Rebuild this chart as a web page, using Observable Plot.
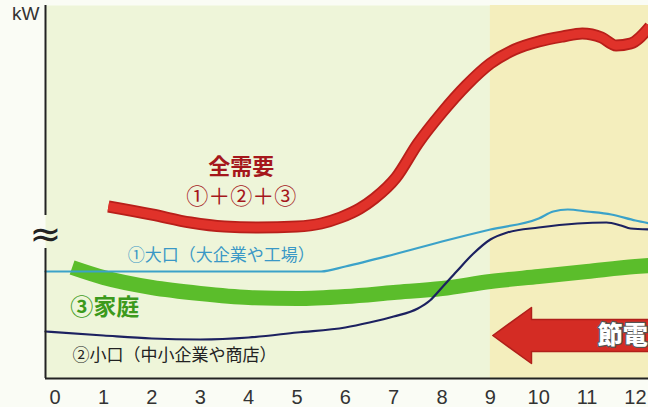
<!DOCTYPE html>
<html><head><meta charset="utf-8">
<script src="https://cdn.jsdelivr.net/npm/d3@7"></script>
<script src="https://cdn.jsdelivr.net/npm/@observablehq/plot@0.6"></script>
<style>
body{margin:0;background:#fafcf5;}
#chart svg{display:block;}
</style></head><body><div id="chart"></div>
<script>
// hour ticks
const hours = d3.range(0, 13);
// ① + ② + ③ total demand
const totalHours  = [1.1, 2, 2.8, 3.5, 4.2, 5, 5.5, 5.9, 6.3, 6.6, 7.05, 7.5, 8, 8.5, 9, 9.5, 10, 10.5, 10.9, 11.3, 11.6, 11.9, 12.3];
const totalValues = [172, 164, 156, 152, 151, 152, 155, 161, 170, 180, 201, 235, 266, 293, 315, 329, 337, 342, 345, 341, 333, 335, 352];
// ① large users (factories)
const largeHours  = [-0.2, 1, 2, 3, 4, 5, 5.5, 6, 7, 8, 9, 10, 10.3, 10.6, 11, 11.5, 12, 12.3];
const largeValues = [107, 107, 107, 107, 107, 107, 107, 112, 124, 137, 149, 160, 167, 169, 167, 164, 158, 155];
// ② small users (shops)
const smallHours  = [-0.2, 1, 2, 3, 4, 5, 6, 6.5, 7, 7.5, 7.75, 8, 8.3, 8.65, 9, 9.35, 10, 10.8, 11.4, 11.7, 11.9, 12.3];
const smallValues = [47, 43, 40, 39, 41, 46, 51, 56, 62, 70, 78, 91, 107, 125, 139, 146, 151, 155, 156, 153, 150, 149];
// ③ households
const homeHours  = [0.35, 1, 2, 3, 4, 5, 6, 7, 8, 9, 10, 11, 12, 12.3];
const homeValues = [111, 101, 91, 85, 81, 80, 82, 86, 90, 97, 102, 107, 112, 113];

const xDomain = [-0.2, 12.27];
const yDomain = [0, 373];
const yBreak = [130, 163];
const peakStart = 9;

const rows = (hs, vs) => hs.map((h, i) => ({h, v: vs[i]}));
const total = rows(totalHours, totalValues);
const large = rows(largeHours, largeValues);
const small = rows(smallHours, smallValues);
const home = rows(homeHours, homeValues);

// arrow "節電" pointing from the right to the 9 o'clock boundary
const arrow = {from: 12.6, to: 9.05, center: 43, head: 0.8, headHalf: 28, shaftHalf: 16};
const arrowPoly = [
  [arrow.to, arrow.center],
  [arrow.to + arrow.head, arrow.center + arrow.headHalf],
  [arrow.to + arrow.head, arrow.center + arrow.shaftHalf],
  [arrow.from, arrow.center + arrow.shaftHalf],
  [arrow.from, arrow.center - arrow.shaftHalf],
  [arrow.to + arrow.head, arrow.center - arrow.shaftHalf],
  [arrow.to + arrow.head, arrow.center - arrow.headHalf]
].map(([h, v]) => ({h, v}));

const cjk = "Noto Sans CJK JP";
const curve = "monotone-x";

const chart = Plot.plot({
  width: 648, height: 407,
  marginLeft: 45, marginRight: 0, marginTop: 5, marginBottom: 29,
  x: {domain: xDomain, ticks: hours, tickSize: 0, tickPadding: 11, tickFormat: d => String(d), label: null},
  y: {domain: yDomain, axis: null},
  style: {background: "transparent", fontFamily: "Liberation Sans", fontSize: "20px", color: "#333"},
  marks: [
    Plot.frame({fill: "#eef5d9", stroke: null}),
    Plot.rect([peakStart], {x1: d => d, x2: xDomain[1] + 0.2, y1: yDomain[0], y2: yDomain[1], fill: "#f4eebd"}),
    // shadows
    Plot.line(home, {x: "h", y: "v", curve, stroke: "#6a6a50", strokeOpacity: 0.35, strokeWidth: 14, dy: 5, ariaLabel: "shadow"}),
    Plot.line(total, {x: "h", y: "v", curve, stroke: "#6a6a50", strokeOpacity: 0.4, strokeWidth: 11, dy: 5, ariaLabel: "shadow"}),
    Plot.line(arrowPoly, {x: "h", y: "v", curve: "linear-closed", fill: "#6a6a50", fillOpacity: 0.3, dy: 4, dx: 2, ariaLabel: "shadow"}),
    // ③ households
    Plot.line(home, {x: "h", y: "v", curve, stroke: "#5bbd2b", strokeWidth: 15, strokeLinecap: "butt"}),
    // ② small
    Plot.line(small, {x: "h", y: "v", curve, stroke: "#1c2160", strokeWidth: 2.2}),
    // ① large
    Plot.line(large, {x: "h", y: "v", curve, stroke: "#3ba2c9", strokeWidth: 2.2}),
    // total
    Plot.line(total, {x: "h", y: "v", curve, stroke: "#b81f1a", strokeWidth: 12, strokeLinecap: "butt"}),
    Plot.line(total, {x: "h", y: "v", curve, stroke: "#e0322a", strokeWidth: 8.5, strokeLinecap: "butt"}),
    // arrow
    Plot.line(arrowPoly, {x: "h", y: "v", curve: "linear-closed", fill: "#d42c24", stroke: "#b01f1a", strokeWidth: 1.5}),
    Plot.text(["節電"], {x: 11.22, y: arrow.center, text: d => d, textAnchor: "start", fontFamily: cjk, fontWeight: 900, fontSize: 25, fill: "white", stroke: "#555", strokeWidth: 2.5, paintOrder: "stroke"}),
    // labels
    Plot.text(["全需要"], {x: 3.85, y: 212, text: d => d, fontFamily: cjk, fontWeight: 700, fontSize: 22, fill: "#a5171c"}),
    Plot.text(["①＋②＋③"], {x: 3.85, y: 182, text: d => d, fontFamily: cjk, fontWeight: 400, fontSize: 22, fill: "#a5171c"}),
    Plot.text(["①大口（大企業や工場）"], {x: 1.5, y: 123, text: d => d, textAnchor: "start", fontFamily: cjk, fontSize: 17, fill: "#3a98c6"}),
    Plot.text(["③家庭"], {x: 0.31, y: 71, text: d => d, textAnchor: "start", fontFamily: cjk, fontWeight: 700, fontSize: 23, fill: "#3c9a1c"}),
    Plot.text(["②小口（中小企業や商店）"], {x: 0.36, y: 23, text: d => d, textAnchor: "start", fontFamily: cjk, fontSize: 17, fill: "#222"}),
    // axes
    Plot.ruleY([yDomain[0]], {stroke: "#222", strokeWidth: 2}),
    Plot.ruleX([{y1: yDomain[0], y2: yBreak[0]}, {y1: yBreak[1], y2: yDomain[1]}], {x: xDomain[0], y1: "y1", y2: "y2", stroke: "#222", strokeWidth: 2}),
    Plot.text(["≈"], {x: xDomain[0], y: (yBreak[0] + yBreak[1]) / 2 - 3, text: d => d, fontFamily: "DejaVu Sans", fontSize: 38, fill: "#222"}),
    Plot.text(["kW"], {x: xDomain[0], y: yDomain[1], text: d => d, dx: -6, dy: 1, textAnchor: "end", lineAnchor: "top", fontFamily: "Liberation Sans", fontSize: 19, fill: "#333"})
  ]
});

const svg = d3.select(chart);
const defs = svg.insert("defs", ":first-child");
defs.append("filter").attr("id", "soft").attr("x", "-10%").attr("y", "-30%").attr("width", "120%").attr("height", "160%")
  .append("feGaussianBlur").attr("stdDeviation", 3);
svg.selectAll('g[aria-label="shadow"]').attr("filter", "url(#soft)");
document.getElementById("chart").appendChild(chart);
</script></body></html>
